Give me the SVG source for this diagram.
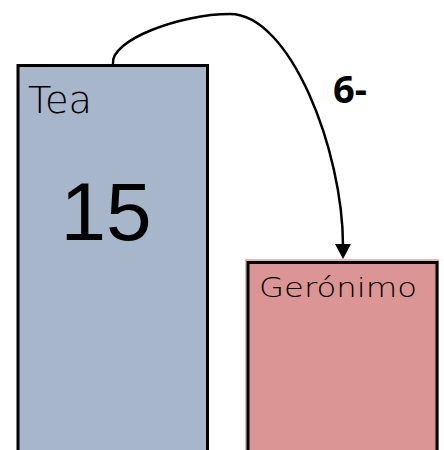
<svg xmlns="http://www.w3.org/2000/svg" width="444" height="450" viewBox="0 0 444 450">
<defs>
<style>
.box{stroke:#000;stroke-width:3}
.name{font-family:"DejaVu Sans","Liberation Sans",sans-serif;font-weight:300;fill:#000}
.conn{fill:none;stroke:#000;stroke-width:2.5}
</style>
</defs>
<g id="tea">
<rect class="box" x="18" y="65.5" width="189.5" height="400" fill="#a7b6cb"/>
<text class="name" x="28" y="113" font-size="38" textLength="64" lengthAdjust="spacingAndGlyphs">Tea</text>
<text x="106" y="240" font-family="'Liberation Sans',Arial,sans-serif" font-size="82" text-anchor="middle" fill="#000">15</text>
</g>
<g id="geronimo">
<rect x="246" y="260" width="192" height="200" fill="none" stroke="#d0706f" stroke-width="1"/>
<rect class="box" x="248" y="262.5" width="189" height="200" fill="#db9594"/>
<text class="name" x="259" y="297" font-size="27" textLength="158" lengthAdjust="spacingAndGlyphs">Gerónimo</text>
</g>
<g id="connectors">
<path class="conn" d="M113,64 C110,40 180,14 230,14 C290,14 343,150 343,246"/>
<path d="M335,244 L351,244 L343,259 Z" fill="#000"/>
<text x="333" y="103" font-family="'Open Sans','Liberation Sans',sans-serif" font-weight="700" font-size="38" fill="#000">6-</text>
</g>
</svg>
